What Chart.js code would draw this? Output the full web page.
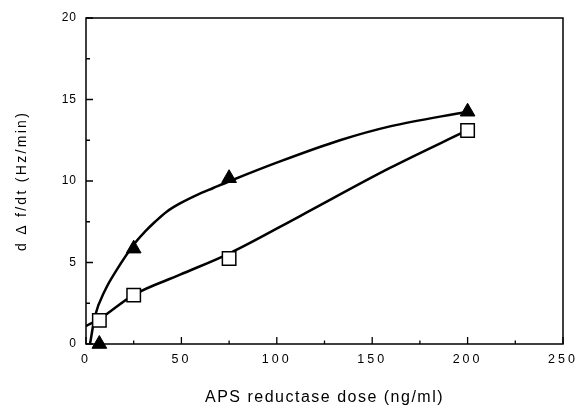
<!DOCTYPE html>
<html>
<head>
<meta charset="utf-8">
<script src="https://cdn.jsdelivr.net/npm/chart.js@4/dist/chart.umd.min.js"></script>
<style>
  html, body { margin: 0; padding: 0; background: #fff; }
  #wrap { width: 577px; height: 411px; }
</style>
</head>
<body>
<div id="wrap"><canvas id="c" width="577" height="411"></canvas></div>
<script>
// Measured data points (APS reductase dose, ng/ml)
const doses = [7, 25, 75, 200];
const triangleValues = [0, 5.85, 10.17, 14.25];
const squareValues = [1.45, 3.0, 5.25, 13.1];

// Fitted curves
const triFitX = [2.1, 4.7, 10, 16.1, 25.7, 30.9, 36.2, 42.3, 49.3, 58, 66.7, 75.5, 101.7, 133.1, 159.3, 199.7];
const triFitY = [0, 1.7, 3.3, 4.55, 6.2, 6.89, 7.5, 8.12, 8.63, 9.14, 9.57, 10.0, 11.2, 12.5, 13.35, 14.25];
const sqFitX = [0, 7.3, 24.8, 49.3, 75.5, 112.2, 159.3, 199.7];
const sqFitY = [1.1, 1.55, 3.0, 4.25, 5.58, 7.85, 10.8, 13.1];

// Axis ticks
const xTicks = [0, 50, 100, 150, 200, 250];
const xMinorTicks = [25, 75, 125, 175, 225];
const yTicks = [0, 5, 10, 15, 20];
const yMinorTicks = [2.5, 7.5, 12.5, 17.5];

const xTitle = 'APS reductase dose (ng/ml)';
const yTitle = 'd \u0394 f/dt (Hz/min)';

const pts = (xs, ys) => xs.map((x, i) => ({ x: x, y: ys[i] }));

const spacingPlugin = {
  id: 'spacing',
  beforeDraw(chart) {
    const wrap = (scale, fn, sp) => {
      const key = '_wrapped_' + fn;
      if (scale[key]) return;
      const orig = scale[fn];
      scale[fn] = function () {
        const ctx = this.ctx;
        ctx.save();
        ctx.letterSpacing = sp;
        orig.apply(this, arguments);
        ctx.restore();
      };
      scale[key] = true;
    };
    wrap(chart.scales.x, 'drawLabels', '3px');
    wrap(chart.scales.x, 'drawTitle', '1.5px');
    wrap(chart.scales.y, 'drawLabels', '1px');
    wrap(chart.scales.y, 'drawTitle', '2.3px');
  }
};

const frameTicks = {
  id: 'frameTicks',
  afterDatasetsDraw(chart) {
    const { ctx, chartArea: a, scales: { x, y } } = chart;
    ctx.save();
    ctx.strokeStyle = '#000';
    ctx.lineWidth = 1.5;
    ctx.beginPath();
    ctx.rect(a.left, a.top, a.right - a.left, a.bottom - a.top);
    ctx.stroke();
    ctx.lineWidth = 1.3;
    ctx.beginPath();
    xTicks.forEach(v => { const p = x.getPixelForValue(v); ctx.moveTo(p, a.bottom); ctx.lineTo(p, a.bottom - 7); });
    xMinorTicks.forEach(v => { const p = x.getPixelForValue(v); ctx.moveTo(p, a.bottom); ctx.lineTo(p, a.bottom - 3.5); });
    yTicks.forEach(v => { const p = y.getPixelForValue(v); ctx.moveTo(a.left, p); ctx.lineTo(a.left + 7, p); });
    yMinorTicks.forEach(v => { const p = y.getPixelForValue(v); ctx.moveTo(a.left, p); ctx.lineTo(a.left + 4, p); });
    ctx.stroke();
    ctx.restore();
  }
};

new Chart(document.getElementById('c'), {
  type: 'scatter',
  data: {
    datasets: [
      {
        data: pts(triFitX, triFitY), showLine: true, borderColor: '#000', borderWidth: 2.5,
        pointRadius: 0, cubicInterpolationMode: 'monotone', fill: false, order: 3
      },
      {
        data: pts(sqFitX, sqFitY), showLine: true, borderColor: '#000', borderWidth: 2.5,
        pointRadius: 0, cubicInterpolationMode: 'monotone', fill: false, order: 3
      },
      {
        data: pts(doses, triangleValues), showLine: false, pointStyle: 'triangle',
        pointRadius: 8.5, backgroundColor: '#000', borderColor: '#000', borderWidth: 1,
        clip: false, order: 1
      },
      {
        data: pts(doses, squareValues), showLine: false, pointStyle: 'rect',
        pointRadius: 9.5, backgroundColor: '#fff', borderColor: '#000', borderWidth: 1.5,
        clip: false, order: 2
      }
    ]
  },
  options: {
    responsive: false,
    animation: false,
    events: [],
    layout: { padding: { top: 18, right: 14, left: 0, bottom: 0 } },
    plugins: { legend: { display: false }, tooltip: { enabled: false } },
    scales: {
      x: {
        type: 'linear', min: 0, max: 250,
        afterBuildTicks: s => { s.ticks = xTicks.map(v => ({ value: v })); },
        afterFit: s => { s.height = 67; s.paddingLeft = 0; s.paddingRight = 0; },
        grid: { display: false, drawTicks: false },
        border: { display: false },
        ticks: { padding: 8, color: '#000', font: { family: 'Liberation Sans, Arial, sans-serif', size: 12.5 }, maxRotation: 0 },
        title: {
          display: true, text: xTitle, color: '#000',
          font: { family: 'Liberation Sans, Arial, sans-serif', size: 16 },
          padding: { top: 0, bottom: 3.4 }
        }
      },
      y: {
        type: 'linear', min: 0, max: 20,
        afterBuildTicks: s => { s.ticks = yTicks.map(v => ({ value: v })); },
        afterFit: s => { s.width = 86; s.paddingTop = 0; s.paddingBottom = 0; },
        grid: { display: false, drawTicks: false },
        border: { display: false },
        ticks: { padding: 9, color: '#000', font: { family: 'Liberation Sans, Arial, sans-serif', size: 12 } },
        title: {
          display: true, text: yTitle, color: '#000',
          font: { family: 'Liberation Sans, Arial, sans-serif', size: 14 },
          padding: { top: 13.6, bottom: 0 }
        }
      }
    }
  },
  plugins: [spacingPlugin, frameTicks]
});
</script>
</body>
</html>
